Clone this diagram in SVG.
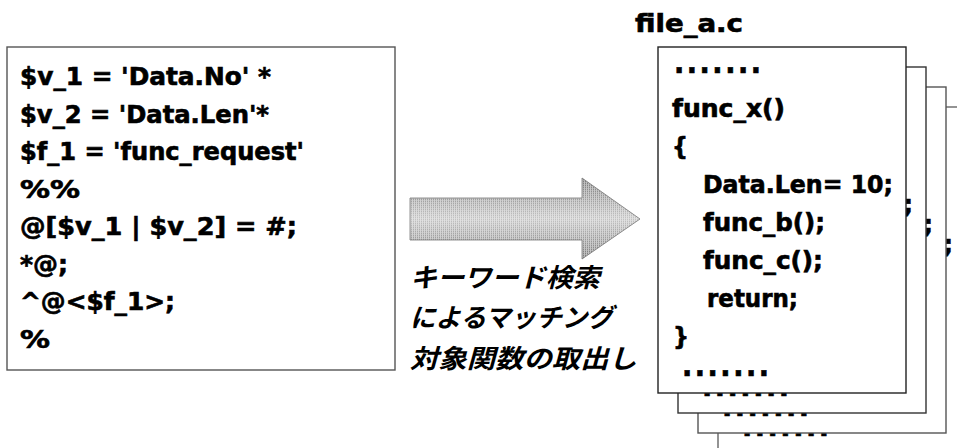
<svg xmlns="http://www.w3.org/2000/svg" xmlns:xlink="http://www.w3.org/1999/xlink" width="957" height="448" viewBox="0 0 957 448">
  <style>
    .code { font-family: "DejaVu Sans", "Liberation Sans", sans-serif; font-weight: bold; font-size: 25px; font-stretch: condensed; fill: #000; stroke: #000; stroke-width: 0.6; }
    .dots { font-size: 30px; }
    .jp { font-family: "Noto Sans CJK JP", sans-serif; font-style: italic; font-weight: bold; font-size: 26px; fill: #000; }
    .box { fill: #fff; stroke-width: 1.4; }
  </style>
  <defs>
    <linearGradient id="arrowShade" x1="0" y1="0" x2="0" y2="1">
      <stop offset="0" stop-color="#767676"/>
      <stop offset="0.5" stop-color="#c4c4c4"/>
      <stop offset="1" stop-color="#767676"/>
    </linearGradient>
    <pattern id="halftone" width="2" height="2" patternUnits="userSpaceOnUse">
      <rect width="1" height="2" fill="#fff" opacity="0.5"/>
      <rect x="1" width="1" height="1" fill="#fff" opacity="0.3"/>
    </pattern>
  </defs>

  <!-- pattern rules -->
  <g id="rules">
    <rect class="box" x="7" y="47" width="388" height="323" stroke="#555"/>
    <text class="code" x="20" y="85" textLength="251" lengthAdjust="spacingAndGlyphs">$v_1 = 'Data.No'  *</text>
    <text class="code" x="20" y="122.5" textLength="249" lengthAdjust="spacingAndGlyphs">$v_2 = 'Data.Len'*</text>
    <text class="code" x="20" y="160" textLength="284" lengthAdjust="spacingAndGlyphs">$f_1 = 'func_request'</text>
    <text class="code" x="20" y="197.5" textLength="60" lengthAdjust="spacingAndGlyphs">%%</text>
    <text class="code" x="20" y="235" textLength="277" lengthAdjust="spacingAndGlyphs">@[$v_1 | $v_2] = #;</text>
    <text class="code" x="20" y="272.5" textLength="48" lengthAdjust="spacingAndGlyphs">*@;</text>
    <text class="code" x="20" y="310" textLength="155" lengthAdjust="spacingAndGlyphs">^@&lt;$f_1&gt;;</text>
    <text class="code" x="20" y="348" textLength="30" lengthAdjust="spacingAndGlyphs">%</text>
  </g>

  <!-- block arrow with caption -->
  <g id="connectors">
    <path d="M410,198 L582,198 L582,178 L640,219 L582,259 L582,240 L410,240 Z" fill="url(#arrowShade)"/>
    <path d="M410,198 L582,198 L582,178 L640,219 L582,259 L582,240 L410,240 Z" fill="url(#halftone)" stroke="#777" stroke-width="0.8"/>
    <text class="jp" x="410" y="287" textLength="190" lengthAdjust="spacingAndGlyphs">キーワード検索</text>
    <text class="jp" x="410" y="327" textLength="203" lengthAdjust="spacingAndGlyphs">によるマッチング</text>
    <text class="jp" x="410" y="368" textLength="227" lengthAdjust="spacingAndGlyphs">対象関数の取出し</text>
  </g>

  <!-- source file stack, back to front -->
  <g id="file-label">
    <text class="code" x="635" y="32" textLength="108" lengthAdjust="spacingAndGlyphs">file_a.c</text>
  </g>
  <g id="page-4" transform="translate(60,60)" color="#666"><use href="#sheet"/></g>
  <g id="page-3" transform="translate(40,40)" color="#555"><use href="#sheet"/></g>
  <g id="page-2" transform="translate(20,20)" color="#333"><use href="#sheet"/></g>
  <g id="page-1" color="#222">
    <g id="sheet">
      <rect class="box" x="658" y="47" width="248" height="346" stroke="currentColor"/>
      <text class="code dots" x="674" y="73" textLength="87" lengthAdjust="spacing">.......</text>
      <text class="code" x="672" y="117" textLength="113" lengthAdjust="spacingAndGlyphs">func_x()</text>
      <text class="code" x="672" y="155">{</text>
      <text class="code" x="703" y="193" textLength="190" lengthAdjust="spacingAndGlyphs">Data.Len= 10;</text>
      <text class="code" x="703" y="231" textLength="122" lengthAdjust="spacingAndGlyphs">func_b();</text>
      <text class="code" x="703" y="269" textLength="120" lengthAdjust="spacingAndGlyphs">func_c();</text>
      <text class="code" x="707" y="307" textLength="91" lengthAdjust="spacingAndGlyphs">return;</text>
      <text class="code" x="673" y="345">}</text>
      <text class="code dots" x="682" y="376" textLength="87" lengthAdjust="spacing">.......</text>
    </g>
  </g>
</svg>
